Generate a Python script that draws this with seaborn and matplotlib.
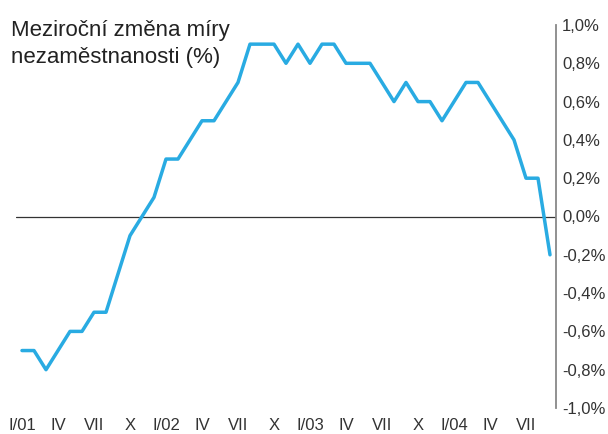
import matplotlib
matplotlib.use("Agg")
import matplotlib.pyplot as plt
import seaborn as sns
import pandas as pd
import numpy as np

# Data: year-on-year change of unemployment rate (%), monthly I/2001 - IX/2004
values = [-0.7, -0.7, -0.8, -0.7, -0.6, -0.6, -0.5, -0.5, -0.3, -0.1,
          0.0, 0.1, 0.3, 0.3, 0.4, 0.5, 0.5, 0.6, 0.7, 0.9,
          0.9, 0.9, 0.8, 0.9, 0.8, 0.9, 0.9, 0.8, 0.8, 0.8,
          0.7, 0.6, 0.7, 0.6, 0.6, 0.5, 0.6, 0.7, 0.7, 0.6,
          0.5, 0.4, 0.2, 0.2, -0.2]
months = list(range(len(values)))
tick_labels = ["I/01", "IV", "VII", "X", "I/02", "IV", "VII", "X",
               "I/03", "IV", "VII", "X", "I/04", "IV", "VII"]
tick_positions = [3 * k for k in range(len(tick_labels))]
y_ticks = [1.0, 0.8, 0.6, 0.4, 0.2, 0.0, -0.2, -0.4, -0.6, -0.8, -1.0]
y_tick_labels = ["1,0%", "0,8%", "0,6%", "0,4%", "0,2%", "0,0%",
                 "-0,2%", "-0,4%", "-0,6%", "-0,8%", "-1,0%"]
title = "Meziroční změna míry\nnezaměstnanosti (%)"

sns.set_style("white")
plt.rcParams['font.family'] = ['Liberation Sans', 'DejaVu Sans']

df = pd.DataFrame({"month": months, "value": values})

fig = plt.figure(figsize=(6.08, 4.34), dpi=100)
ax = fig.add_axes([16 / 608, 26 / 434, 540 / 608, 383 / 434])

ax.axhline(0, color="#333333", lw=0.9, zorder=1)
sns.lineplot(data=df, x="month", y="value", ax=ax, color="#29abe2",
             lw=2.5, zorder=3)

ax.set_xlim(-0.5, 44.5)
ax.set_ylim(-1.0, 1.0)
ax.set_xlabel("")
ax.set_ylabel("")

ax.set_xticks(tick_positions)
ax.set_xticklabels(tick_labels, fontsize=12, color="#333333")
ax.set_yticks(y_ticks)
ax.set_yticklabels(y_tick_labels, fontsize=12, color="#333333")
ax.yaxis.tick_right()
ax.tick_params(axis="y", length=0, pad=4.3)
ax.tick_params(axis="x", length=0, pad=7.5)

for s in ["top", "left", "bottom"]:
    ax.spines[s].set_visible(False)
ax.spines["right"].set_color("#888888")
ax.spines["right"].set_linewidth(1.3)

fig.text(11 / 608, 1 - 63 / 434, title, fontsize=16, color="#222222",
         ha="left", va="baseline", linespacing=1.4)
fig.savefig("out.png", dpi=100)
